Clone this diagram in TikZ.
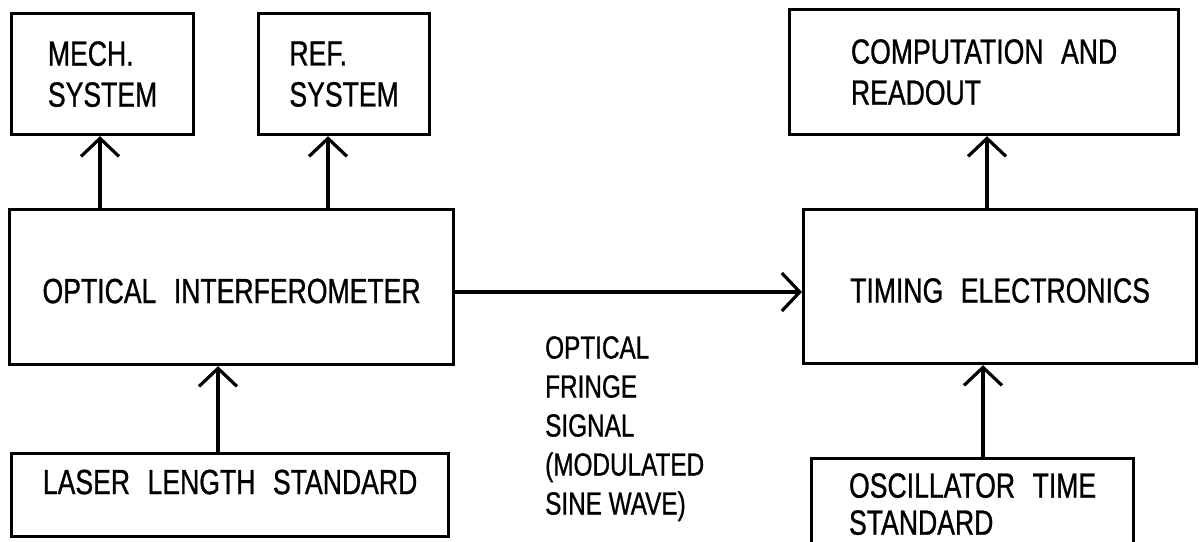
\documentclass[tikz,border=0pt]{standalone}
\usepackage{fontspec}
\setmainfont{Liberation Sans}[FakeStretch=0.76,FakeBold=0.8]
\usetikzlibrary{arrows.meta}
\newcommand\wsp{\hspace{0.5em}}
\begin{document}
\begin{tikzpicture}[x=1pt,y=-1pt,
  box/.style={draw, line width=3.2pt, inner sep=0pt, anchor=north west,
    font=\fontsize{35}{41}\selectfont},
  arr/.style={line width=3.2pt, -{Straight Barb[length=18pt,width=38pt]}},
  note/.style={anchor=north west, inner sep=0pt, align=left,
    font=\fontsize{32}{39}\selectfont}]
\useasboundingbox (0,0) rectangle (1199,541);
\clip (0,0) rectangle (1199,541);
\node[box, align=left, minimum width=182pt, minimum height=121pt] (mech) at (10,12) {MECH.\\SYSTEM};
\node[box, align=left, minimum width=171pt, minimum height=121pt] (ref) at (257,12) {REF.\\SYSTEM};
\node[box, align=left, minimum width=389pt, minimum height=125pt] (comp) at (788,8) {COMPUTATION\wsp AND\\READOUT};
\node[box, minimum width=444pt, minimum height=155pt, text height=39pt, text depth=7pt] (oi) at (8,208) {OPTICAL\wsp INTERFEROMETER};
\node[box, minimum width=393pt, minimum height=154pt, text height=39pt, text depth=7pt] (te) at (802,208) {TIMING\wsp ELECTRONICS};
\node[box, minimum width=437pt, minimum height=83pt, text height=25pt, text depth=27pt] (laser) at (10,452) {LASER\wsp LENGTH\wsp STANDARD};
\node[box, align=left, minimum width=322pt, minimum height=91pt, font=\fontsize{35}{37}\selectfont] (osc) at (810,457) {OSCILLATOR\wsp TIME\\STANDARD};
\node[note] (sig) at (545,336) {OPTICAL\\FRINGE\\SIGNAL\\(MODULATED\\SINE WAVE)};
\draw[arr] (oi.north -| 100,0) -- (mech.south -| 100,0);
\draw[arr] (oi.north -| 328,0) -- (ref.south -| 328,0);
\draw[arr] (laser.north -| 218,0) -- (oi.south -| 218,0);
\draw[arr] (oi.east |- 0,292) -- (te.west |- 0,292);
\draw[arr] (te.north -| 987,0) -- (comp.south -| 987,0);
\draw[arr] (osc.north -| 983,0) -- (te.south -| 983,0);
\end{tikzpicture}
\end{document}
